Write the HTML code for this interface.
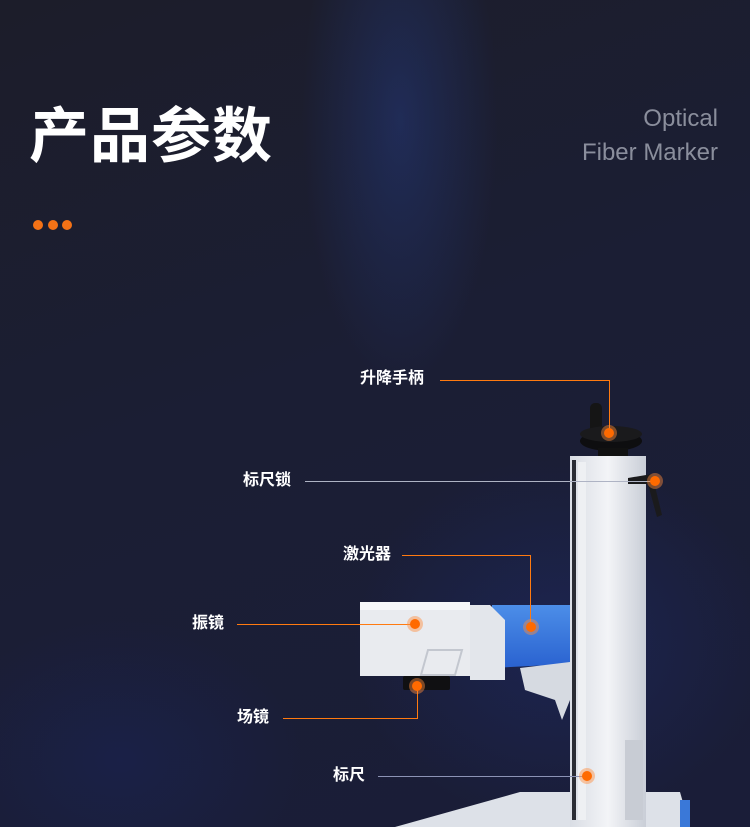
<!DOCTYPE html>
<html><head><meta charset="utf-8"><style>
html,body{margin:0;padding:0}
body{width:750px;height:827px;overflow:hidden;position:relative;font-family:"Liberation Sans","Noto Sans CJK SC",sans-serif;
background:
radial-gradient(ellipse 140px 380px at 400px 120px, rgba(40,70,160,.35), transparent 70%),
radial-gradient(ellipse 300px 260px at 560px 640px, rgba(30,50,130,.35), transparent 70%),
radial-gradient(ellipse 260px 200px at 120px 760px, rgba(25,40,110,.3), transparent 70%),
linear-gradient(160deg,#1c1d2a 0%,#1b1e34 45%,#1a1d38 100%);}
.t{position:absolute;color:#fff;font-weight:bold;font-size:16px;line-height:16px;white-space:nowrap}
.l{position:absolute;background:#ff7a10}
.d{position:absolute;width:10px;height:10px;border-radius:50%;background:#ff6a00;box-shadow:0 0 0 3px rgba(255,140,60,.45)}
.a{position:absolute}
</style></head><body>
<div class="t" style="left:29px;top:102px;font-size:60px;line-height:70px;letter-spacing:1px">产品参数</div>
<div class="a" style="right:32px;top:102px;color:#8a8e9c;font-size:24px;line-height:34px;text-align:right">Optical<br>Fiber Marker</div>
<div class="a" style="left:33px;top:220px;width:10px;height:10px;border-radius:50%;background:#f47216"></div>
<div class="a" style="left:48px;top:220px;width:10px;height:10px;border-radius:50%;background:#f47216"></div>
<div class="a" style="left:62px;top:220px;width:10px;height:10px;border-radius:50%;background:#f47216"></div>

<svg class="a" style="left:0;top:0" width="750" height="827">
<defs>
<linearGradient id="al" x1="0" x2="1"><stop offset="0" stop-color="#d9dde4"/><stop offset=".5" stop-color="#f3f4f7"/><stop offset="1" stop-color="#c9ced7"/></linearGradient>
<linearGradient id="bl" x1="0" y1="0" x2="0" y2="1"><stop offset="0" stop-color="#4c8ee8"/><stop offset="1" stop-color="#2a62d0"/></linearGradient>
</defs>
<polygon points="395,827 520,792 680,792 690,827" fill="#dde1e8"/>
<rect x="680" y="800" width="10" height="27" fill="#3a78d8"/>
<rect x="570" y="456" width="76" height="371" fill="url(#al)"/>
<rect x="572" y="460" width="4" height="360" fill="#2a2c34"/>
<rect x="578" y="462" width="8" height="358" fill="#eef0f3"/>
<rect x="625" y="740" width="18" height="80" fill="#c8ccd4"/>
<rect x="590" y="403" width="12" height="30" rx="5" fill="#151515"/>
<ellipse cx="611" cy="441" rx="31" ry="10" fill="#0e0e10"/>
<ellipse cx="611" cy="434" rx="31" ry="8" fill="#1a1a1c"/>
<rect x="598" y="448" width="30" height="8" fill="#111"/>
<path d="M628 478 L652 474 L662 515 L657 517 L648 484 L628 484Z" fill="#1a1a1c"/>
<polygon points="492,605 570,605 570,664 492,668" fill="url(#bl)"/>
<polygon points="470,605 490,605 505,620 505,680 470,680" fill="#e3e6eb"/>
<polygon points="520,668 570,662 570,700 562,720 555,700 525,690" fill="#d6dae1"/>
<rect x="360" y="602" width="110" height="74" fill="#e9ebef"/>
<rect x="360" y="602" width="110" height="8" fill="#f6f7f9"/>
<path d="M428 650 L462 650 L455 675 L421 675Z" fill="none" stroke="#c3c7cf" stroke-width="2"/>
<rect x="403" y="676" width="47" height="14" rx="2" fill="#101012"/>
</svg>

<div class="l" style="left:440px;top:380px;width:170px;height:1px"></div>
<div class="l" style="left:609px;top:380px;width:1px;height:52px"></div>
<div class="l" style="left:305px;top:481px;width:350px;height:1px;background:#aeb3c4"></div>
<div class="l" style="left:402px;top:555px;width:129px;height:1px"></div>
<div class="l" style="left:530px;top:555px;width:1px;height:72px"></div>
<div class="l" style="left:237px;top:624px;width:178px;height:1px"></div>
<div class="l" style="left:283px;top:718px;width:135px;height:1px"></div>
<div class="l" style="left:417px;top:686px;width:1px;height:32px"></div>
<div class="l" style="left:378px;top:776px;width:209px;height:1px;background:#8c93b5"></div>

<div class="d" style="left:604px;top:428px"></div>
<div class="d" style="left:650px;top:476px"></div>
<div class="d" style="left:526px;top:622px"></div>
<div class="d" style="left:410px;top:619px"></div>
<div class="d" style="left:412px;top:681px"></div>
<div class="d" style="left:582px;top:771px"></div>

<div class="t" style="left:360px;top:371px">升降手柄</div>
<div class="t" style="left:243px;top:473px">标尺锁</div>
<div class="t" style="left:343px;top:547px">激光器</div>
<div class="t" style="left:192px;top:616px">振镜</div>
<div class="t" style="left:237px;top:710px">场镜</div>
<div class="t" style="left:333px;top:768px">标尺</div>
</body></html>
